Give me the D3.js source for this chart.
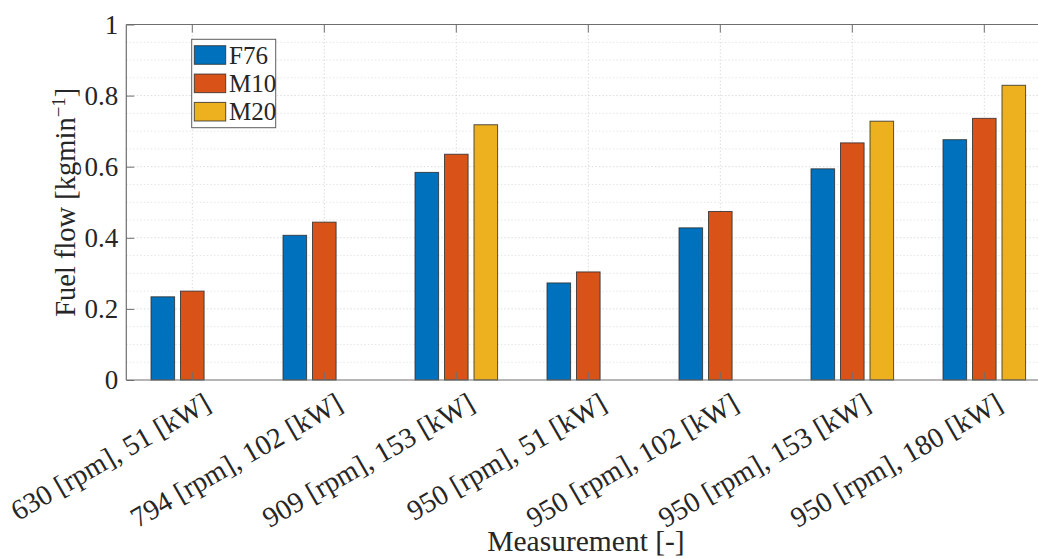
<!DOCTYPE html>
<html>
<head>
<meta charset="utf-8">
<script src="https://cdn.jsdelivr.net/npm/d3@7"></script>
<style>
  body { margin: 0; background: #fff; }
  svg { display: block; }
  text { font-family: "Liberation Serif", "DejaVu Serif", serif; fill: #262626; }
</style>
</head>
<body>
<svg id="chart" width="1038" height="559"></svg>
<script>
// Measurement points (engine speed, load)
const categories = [
  "630 [rpm], 51 [kW]",
  "794 [rpm], 102 [kW]",
  "909 [rpm], 153 [kW]",
  "950 [rpm], 51 [kW]",
  "950 [rpm], 102 [kW]",
  "950 [rpm], 153 [kW]",
  "950 [rpm], 180 [kW]"
];
const seriesNames = ["F76", "M10", "M20"];
// Fuel flow in kg/min
const f76 = [0.234, 0.407, 0.584, 0.273, 0.428, 0.594, 0.676];
const m10 = [0.250, 0.444, 0.635, 0.304, 0.474, 0.667, 0.736];
const m20 = [null, null, 0.718, null, null, 0.728, 0.829];
const yTicks = [0, 0.2, 0.4, 0.6, 0.8, 1];
const seriesColors = ["#0072BD", "#D95319", "#EDB120"];

const series = [f76, m10, m20];

const svg = d3.select("#chart");
const pLeft = 126.3, pTop = 24.5, pBottom = 380, step = 132;
const pRight = pLeft + step * categories.length;

const x = d3.scaleBand().domain(categories).range([pLeft, pRight]).padding(0);
const xSub = d3.scaleBand().domain(seriesNames).range([-44.25, 44.25])
  .paddingInner(0.2).paddingOuter(0.1);
const y = d3.scaleLinear().domain([0, 1]).range([pBottom, pTop]);
const cx = c => x(c) + x.bandwidth() / 2;

// grid
const grid = svg.append("g");
const minor = d3.range(0, 1.0001, 0.05).filter(v => Math.abs(v * 5 - Math.round(v * 5)) > 1e-6);
grid.selectAll(".minor").data(minor).join("line")
  .attr("x1", pLeft).attr("x2", pRight)
  .attr("y1", d => y(d)).attr("y2", d => y(d))
  .attr("stroke", "#e6e6e6").attr("stroke-width", 1).attr("stroke-dasharray", "1.5,2");
grid.selectAll(".major").data(yTicks.slice(1, -1)).join("line")
  .attr("x1", pLeft).attr("x2", pRight)
  .attr("y1", d => y(d)).attr("y2", d => y(d))
  .attr("stroke", "#dcdcdc").attr("stroke-width", 1).attr("stroke-dasharray", "1.5,2");
grid.selectAll(".vgrid").data(categories).join("line")
  .attr("x1", d => cx(d)).attr("x2", d => cx(d))
  .attr("y1", pTop).attr("y2", pBottom)
  .attr("stroke", "#dcdcdc").attr("stroke-width", 1).attr("stroke-dasharray", "1.5,2");

// bars
series.forEach((vals, si) => {
  svg.append("g").selectAll("rect")
    .data(categories.map((c, i) => ({ c, v: vals[i] })).filter(d => d.v != null))
    .join("rect")
    .attr("x", d => cx(d.c) + xSub(seriesNames[si]))
    .attr("width", xSub.bandwidth())
    .attr("y", d => y(d.v))
    .attr("height", d => y(0) - y(d.v))
    .attr("fill", seriesColors[si])
    .attr("stroke", "#2b2b2b").attr("stroke-opacity", 0.8).attr("stroke-width", 1);
});

// axes frame
const axisColor = "#6e6e6e";
const frame = svg.append("g").attr("stroke", axisColor).attr("stroke-width", 1.2).attr("fill", "none");
frame.append("line").attr("x1", pLeft).attr("x2", pLeft).attr("y1", pTop).attr("y2", pBottom);
frame.append("line").attr("x1", pLeft).attr("x2", pRight).attr("y1", pBottom).attr("y2", pBottom);
frame.append("line").attr("x1", pLeft).attr("x2", pRight).attr("y1", pTop).attr("y2", pTop);
frame.append("line").attr("x1", pRight).attr("x2", pRight).attr("y1", pTop).attr("y2", pBottom);

// y axis ticks (inward) and labels
const yAxis = d3.axisLeft(y).tickValues(yTicks).tickSize(-8).tickPadding(8)
  .tickFormat(d => d === 0 || d === 1 ? String(d) : d3.format(".1f")(d));
const gy = svg.append("g").attr("transform", `translate(${pLeft},0)`).call(yAxis);
gy.select(".domain").remove();
gy.selectAll(".tick line").attr("stroke", axisColor);
gy.selectAll(".tick text").attr("font-size", 27).attr("fill", "#262626")
  .style("font-family", '"Liberation Serif", serif');

// x ticks (inward, top and bottom)
const xt = svg.append("g").attr("stroke", axisColor).attr("stroke-width", 1);
xt.selectAll(".tb").data(categories).join("line")
  .attr("x1", d => cx(d)).attr("x2", d => cx(d)).attr("y1", pBottom).attr("y2", pBottom - 8);
xt.selectAll(".tt").data(categories).join("line")
  .attr("x1", d => cx(d)).attr("x2", d => cx(d)).attr("y1", pTop).attr("y2", pTop + 8);

// x tick labels, rotated
svg.append("g").selectAll("text").data(categories).join("text")
  .attr("transform", d => `translate(${cx(d) + 10},${pBottom + 11}) rotate(-30)`)
  .attr("text-anchor", "end").attr("dy", "0.72em")
  .attr("font-size", 28.5)
  .text(d => d);

// axis titles
svg.append("text").attr("x", 586).attr("y", 551).attr("text-anchor", "middle")
  .attr("font-size", 29.5).text("Measurement [-]");

const yl = svg.append("text")
  .attr("transform", `translate(75,${(pTop + pBottom) / 2}) rotate(-90)`)
  .attr("text-anchor", "middle").attr("font-size", 28.5);
yl.append("tspan").text("Fuel flow [kgmin");
yl.append("tspan").attr("baseline-shift", "super").attr("font-size", 19).text("\u22121");
yl.append("tspan").text("]");

// legend
const lg = svg.append("g");
lg.append("rect").attr("x", 191.7).attr("y", 39.3).attr("width", 84).attr("height", 88.4)
  .attr("fill", "#fff").attr("stroke", "#262626").attr("stroke-opacity", 0.75).attr("stroke-width", 1);
const rowY = d3.scalePoint().domain(seriesNames).range([55, 111.7]);
seriesNames.forEach((n, i) => {
  lg.append("rect").attr("x", 194.3).attr("y", rowY(n) - 9.3).attr("width", 31.4).attr("height", 18.6)
    .attr("fill", seriesColors[i]).attr("stroke", "#2b2b2b").attr("stroke-opacity", 0.8);
  lg.append("text").attr("x", 229).attr("y", rowY(n)).attr("dy", "0.35em")
    .attr("font-size", 25).text(n);
});
</script>
</body>
</html>
